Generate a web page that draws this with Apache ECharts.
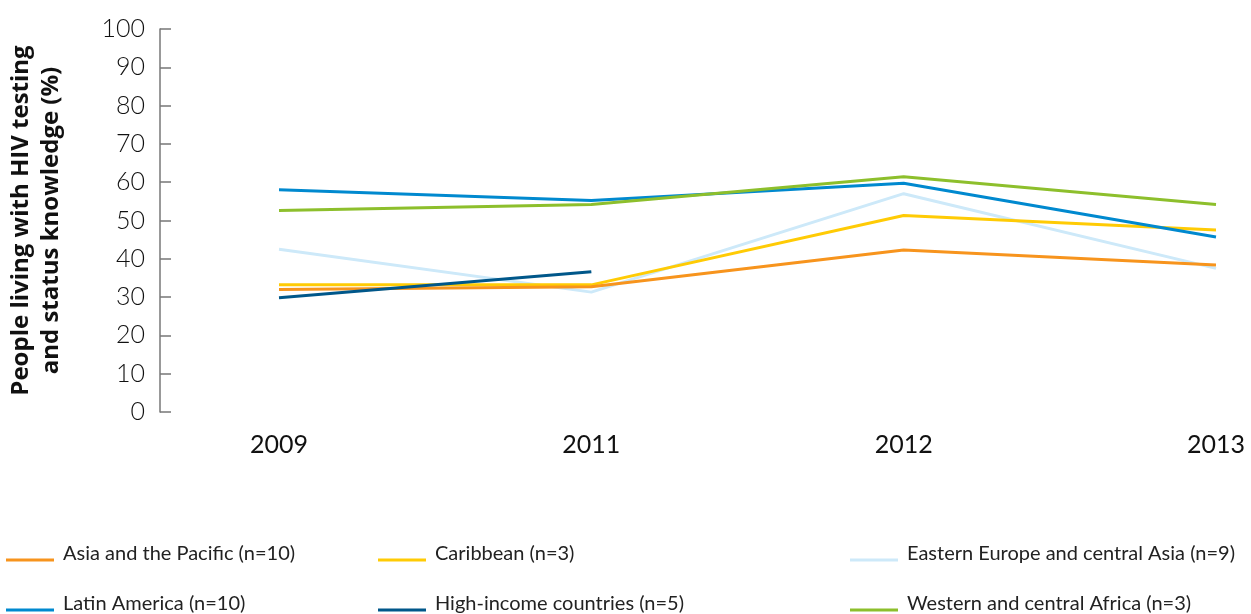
<!DOCTYPE html>
<html>
<head>
    <meta charset="utf-8" />
    <title>HIV testing and status knowledge</title>
    <style>
        html, body { margin: 0; padding: 0; background: #fff; }
        #linechart { width: 1251px; height: 614px; }
    </style>
</head>
<body>
    <div id="linechart"></div>
    <script src="https://cdn.jsdelivr.net/npm/echarts@6/dist/echarts.min.js"></script>
    <script>
        var years = ['2009', '2011', '2012', '2013'];
        var yTicks = [0, 10, 20, 30, 40, 50, 60, 70, 80, 90, 100];

        var asiaPacific = [32.0, 32.7, 42.3, 38.4];
        var caribbean = [33.2, 33.2, 51.3, 47.5];
        var easternEurope = [42.5, 31.3, 57.0, 37.5];
        var latinAmerica = [58.0, 55.2, 59.7, 45.7];
        var highIncome = [29.8, 36.6, null, null];
        var westernAfrica = [52.6, 54.2, 61.4, 54.2];

        var names = {
            asia: 'Asia and the Pacific (n=10)',
            carib: 'Caribbean (n=3)',
            east: 'Eastern Europe and central Asia (n=9)',
            latin: 'Latin America (n=10)',
            high: 'High-income countries (n=5)',
            west: 'Western and central Africa (n=3)'
        };

        function line(name, data, color) {
            return {
                name: name,
                type: 'line',
                data: data,
                symbol: 'none',
                connectNulls: false,
                lineStyle: { color: color, width: 3 },
                itemStyle: { color: color }
            };
        }

        // one legend per entry so the three columns can sit where they do in the original
        function legendItem(left, top, name) {
            return {
                left: left,
                top: top,
                padding: 0,
                icon: 'rect',
                itemWidth: 48,
                itemHeight: 3,
                itemGap: 0,
                data: [name],
                selectedMode: false,
                formatter: '{t|{name}}',
                textStyle: {
                    color: '#222',
                    rich: {
                        t: {
                            fontFamily: 'Lato',
                            fontSize: 20,
                            color: '#222',
                            padding: [0, 0, 12, 4]
                        }
                    }
                }
            };
        }

        var option = {
            animation: false,
            grid: { left: 279, right: 35, top: 29, bottom: 202, outerBoundsMode: 'none' },
            legend: [
                legendItem(6, 544, names.asia),
                legendItem(6, 594, names.latin),
                legendItem(378, 544, names.carib),
                legendItem(378, 594, names.high),
                legendItem(850, 544, names.east),
                legendItem(850, 594, names.west)
            ],
            xAxis: {
                type: 'category',
                data: years,
                boundaryGap: false,
                axisLine: { show: false },
                axisTick: { show: false },
                axisLabel: {
                    margin: 20,
                    fontFamily: 'Lato',
                    fontSize: 25,
                    color: '#111'
                }
            },
            yAxis: {
                type: 'value',
                min: yTicks[0],
                max: yTicks[yTicks.length - 1],
                interval: 10,
                offset: 119,
                name: 'People living with HIV testing\nand status knowledge (%)',
                nameLocation: 'middle',
                nameGap: 94,
                nameTextStyle: {
                    fontFamily: 'Open Sans',
                    fontWeight: 'bold',
                    fontSize: 24,
                    color: '#111',
                    lineHeight: 30
                },
                axisLine: { show: true, lineStyle: { color: '#777', width: 1.5 } },
                axisTick: { show: true, inside: true, length: 11, lineStyle: { color: '#777', width: 1.5 } },
                splitLine: { show: false },
                axisLabel: {
                    margin: 15,
                    fontFamily: 'Lato',
                    fontWeight: 300,
                    fontSize: 25,
                    color: '#111'
                }
            },
            series: [
                line(names.east, easternEurope, '#cde9f9'),
                line(names.carib, caribbean, '#ffcb05'),
                line(names.asia, asiaPacific, '#f7941d'),
                line(names.high, highIncome, '#00578a'),
                line(names.latin, latinAmerica, '#0089cf'),
                line(names.west, westernAfrica, '#8dbf2c')
            ]
        };

        var chart = echarts.init(document.getElementById('linechart'));
        chart.setOption(option);
    </script>
</body>
</html>
